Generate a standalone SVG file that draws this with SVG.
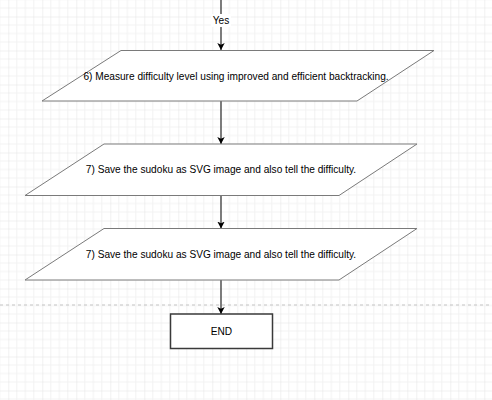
<svg xmlns="http://www.w3.org/2000/svg" width="492" height="400" viewBox="0 0 492 400">
  <defs>
    <pattern id="grid" patternUnits="userSpaceOnUse" x="8.3" y="16.5" width="34" height="34">
      <path d="M8.5 0V34M17 0V34M25.5 0V34M0 8.5H34M0 17H34M0 25.5H34" fill="none" stroke="#f2f2f2" stroke-width="1"/>
      <path d="M0 0V34M0 0H34" fill="none" stroke="#e3e3e3" stroke-width="1"/>
    </pattern>
    <marker id="arrow" markerUnits="userSpaceOnUse" markerWidth="8" markerHeight="9" refX="7" refY="4.5" orient="auto" viewBox="0 0 8 9">
      <path d="M0 0.8L7 4.5L0 8.2L1.8 4.5Z" fill="#000"/>
    </marker>
    <style>
      .shape { fill: #ffffff; stroke: #7a7a7a; stroke-width: 1; }
      .end { fill: #ffffff; stroke: #3a3a3a; stroke-width: 1.5; }
      .edge { fill: none; stroke: #000; stroke-width: 1; marker-end: url(#arrow); }
      .label { font-family: "Liberation Sans", Arial, Helvetica, sans-serif; font-size: 10.15px; fill: #000; text-anchor: middle; dominant-baseline: central; }
    </style>
  </defs>

  <rect x="0" y="0" width="492" height="400" fill="#ffffff"/>
  <rect x="0" y="0" width="492" height="400" fill="url(#grid)"/>
  <line x1="0" y1="305" x2="492" y2="305" stroke="#c4c4c4" stroke-width="1" stroke-dasharray="3 3"/>

  <g id="connectors">
    <path class="edge" d="M221 0V50"/>
    <rect x="211" y="14" width="20" height="13" fill="#ffffff"/>
    <text class="label" x="221" y="20.5">Yes</text>
    <path class="edge" d="M221 101V144"/>
    <path class="edge" d="M221 195.5V228.5"/>
    <path class="edge" d="M221 280V314"/>
  </g>

  <g id="node-measure">
    <polygon class="shape" points="121,50.5 434,50.5 357,101 42,101"/>
    <text class="label" x="236" y="76.5">6) Measure difficulty level using improved and efficient backtracking.</text>
  </g>

  <g id="node-save1">
    <polygon class="shape" points="104,144 417,144 339,195.5 25,195.5"/>
    <text class="label" x="221" y="169.5">7) Save the sudoku as SVG image and also tell the difficulty.</text>
  </g>

  <g id="node-save2">
    <polygon class="shape" points="104,228.5 417,228.5 339,280 25,280"/>
    <text class="label" x="221" y="254.5">7) Save the sudoku as SVG image and also tell the difficulty.</text>
  </g>

  <g id="node-end">
    <rect class="end" x="170.5" y="314" width="102" height="34.5"/>
    <text class="label" x="221.5" y="331.5">END</text>
  </g>
</svg>
